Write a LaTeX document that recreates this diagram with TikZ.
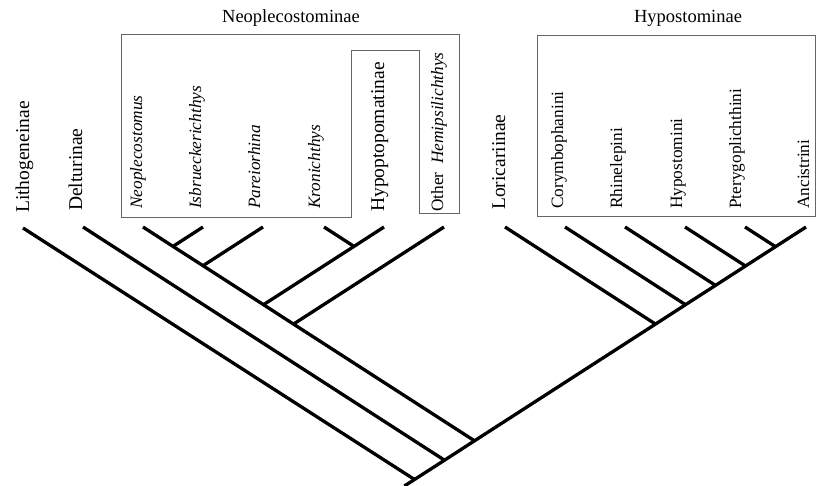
\documentclass[tikz,border=0pt]{standalone}
\usepackage{fontspec}
\setmainfont{Liberation Serif}
\begin{document}
\begin{tikzpicture}[x=1pt,y=-1pt,
  branch/.style={line width=3.3pt, line join=miter},
  cladebox/.style={draw=black!60, line width=0.9pt},
  biglabel/.style={rotate=90, anchor=base west, inner sep=0pt, font=\fontsize{19.5}{22}\selectfont},
  smalllabel/.style={rotate=90, anchor=base west, inner sep=0pt, font=\fontsize{17.3}{20}\selectfont},
  grouplabel/.style={anchor=center, inner sep=0pt, font=\fontsize{18.5}{21}\selectfont}]
\useasboundingbox (0,0) rectangle (816,486);
% boxes
\draw[cladebox] (121,34) -- (459,34) -- (459,213) -- (419,213) -- (419,50) -- (351,50) -- (351,217) -- (121,217) -- cycle;
\draw[cladebox] (537,35) rectangle (815,216);
\node[grouplabel] (neoT) at (291,18) {Neoplecostominae};
\node[grouplabel] (hypT) at (688,18) {Hypostominae};
% labels
\node[biglabel] (tL) at (29,213) {Lithogeneinae};
\node[biglabel] (tD) at (82,211) {Delturinae};
\node[smalllabel] (tN) at (142,209) {\itshape Neoplecostomus};
\node[smalllabel] (tI) at (201,209) {\itshape Isbrueckerichthys};
\node[smalllabel] (tP) at (260,209) {\itshape Pareiorhina};
\node[smalllabel] (tK) at (320,209) {\itshape Kronichthys};
\node[biglabel] (tH) at (384,212) {Hypoptopomatinae};
\node[smalllabel] (tO) at (443,212) {Other \ \textit{Hemipsilichthys}};
\node[biglabel] (tLo) at (505,210) {Loricariinae};
\node[smalllabel] (tC) at (563,209) {Corymbophanini};
\node[smalllabel] (tR) at (622,209) {Rhinelepini};
\node[smalllabel] (tHy) at (682,209) {Hypostomini};
\node[smalllabel] (tPt) at (741,209) {Pterygoplichthini};
\node[smalllabel] (tA) at (809,209) {Ancistrini};
% leaf tips
\coordinate (L) at (23,228);
\coordinate (D) at (83,227);
\coordinate (N) at (143,227);
\coordinate (I) at (203,227);
\coordinate (P) at (263,227);
\coordinate (K) at (324,227);
\coordinate (H) at (384,227);
\coordinate (O) at (444,227);
\coordinate (Lo) at (505,227);
\coordinate (C) at (565,227);
\coordinate (R) at (625,227);
\coordinate (Hy) at (685,227);
\coordinate (Pt) at (745,227);
\coordinate (A) at (806,227);
% internal nodes
\coordinate (nI) at (173,246.4);
\coordinate (nP) at (203,265.7);
\coordinate (nKH) at (354,246.4);
\coordinate (nNH) at (263.5,304.7);
\coordinate (nNO) at (293.5,324.1);
\coordinate (nPA) at (775.5,246.7);
\coordinate (nHyA) at (745.5,266);
\coordinate (nRA) at (715.5,285.4);
\coordinate (nCA) at (685.5,304.7);
\coordinate (nLoA) at (655.5,324.1);
\coordinate (nNA) at (474.5,440.8);
\coordinate (nDA) at (444.5,460.2);
\coordinate (root) at (414.5,479.5);
\coordinate (stem) at (404.4,486);
% branches
\draw[branch] (L) -- (root);
\draw[branch] (D) -- (nDA);
\draw[branch] (N) -- (nI) -- (nP) -- (nNH) -- (nNO) -- (nNA);
\draw[branch] (I) -- (nI);
\draw[branch] (P) -- (nP);
\draw[branch] (K) -- (nKH);
\draw[branch] (H) -- (nKH) -- (nNH);
\draw[branch] (O) -- (nNO);
\draw[branch] (Lo) -- (nLoA);
\draw[branch] (C) -- (nCA);
\draw[branch] (R) -- (nRA);
\draw[branch] (Hy) -- (nHyA);
\draw[branch] (Pt) -- (nPA);
\draw[branch] (A) -- (nPA) -- (nHyA) -- (nRA) -- (nCA) -- (nLoA) -- (nNA) -- (nDA) -- (root) -- (stem);
\end{tikzpicture}
\end{document}
